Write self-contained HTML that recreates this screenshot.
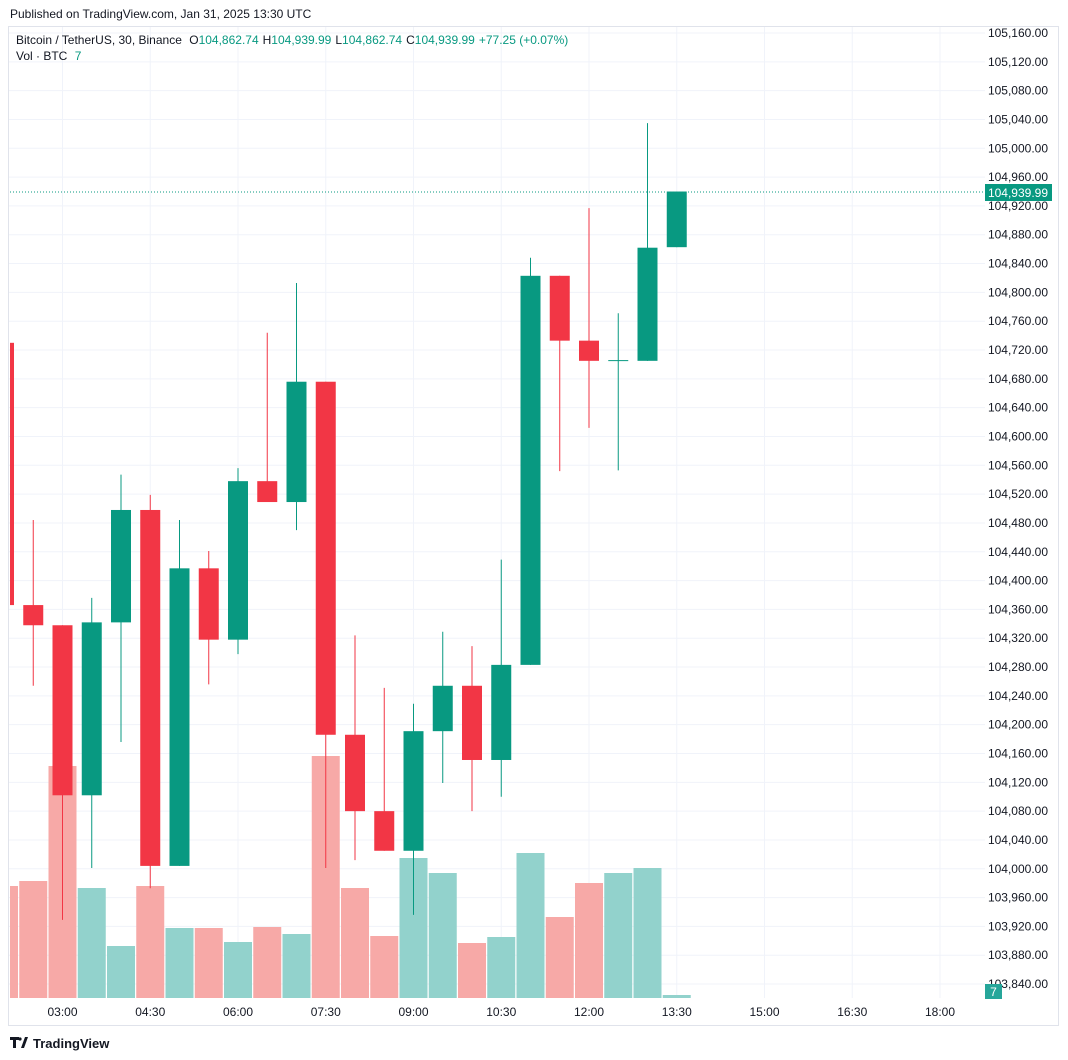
<!DOCTYPE html>
<html><head><meta charset="utf-8"><style>
body{margin:0;background:#fff;font-family:"Liberation Sans",sans-serif;}
svg{display:block}
</style></head><body>
<svg id="c" width="1068" height="1060">
<rect x="0" y="0" width="1068" height="1060" fill="#fff"/>
<text x="10" y="18" font-size="12" fill="#131722">Published on TradingView.com, Jan 31, 2025 13:30 UTC</text>
<rect x="8.5" y="26.5" width="1050" height="999" fill="none" stroke="#e0e3eb"/>
<g id="grid"></g><g id="vol"></g><g id="candles"></g>
<line x1="10" x2="985" y1="192" y2="192" stroke="#089981" stroke-dasharray="1,2"/>
<g id="yaxis"></g><g id="xaxis"></g>
<rect x="985" y="184" width="67" height="17" fill="#089981"/>
<text x="1048" y="197" font-size="12" fill="#fff" text-anchor="end">104,939.99</text>
<rect x="985" y="984" width="17" height="15" fill="#26a69a"/>
<text x="993.5" y="996" font-size="12" fill="#fff" text-anchor="middle">7</text>
<text x="16" y="44" font-size="12" fill="#131722">Bitcoin / TetherUS, 30, Binance <tspan dx="4">O</tspan><tspan fill="#089981">104,862.74</tspan><tspan dx="4">H</tspan><tspan fill="#089981">104,939.99</tspan><tspan dx="4">L</tspan><tspan fill="#089981">104,862.74</tspan><tspan dx="4">C</tspan><tspan fill="#089981">104,939.99</tspan><tspan dx="4" fill="#089981">+77.25 (+0.07%)</tspan></text>
<text x="16" y="60" font-size="12" fill="#131722">Vol · BTC <tspan dx="4" fill="#089981">7</tspan></text>
<g><path d="M10 1037h9v3h-3v8h-3v-8h-3z M21 1048l4-11h3l-4 11z" fill="#131722"/><circle cx="20" cy="1039" r="1.6" fill="#131722"/>
<text x="33" y="1048" font-size="13" fill="#131722" font-weight="bold">TradingView</text></g>
</svg>
<script>
const times=["02:00","02:30","03:00","03:30","04:00","04:30","05:00","05:30","06:00","06:30","07:00","07:30","08:00","08:30","09:00","09:30","10:00","10:30","11:00","11:30","12:00","12:30","13:00","13:30"];
const opens=[104730,104366,104338,104102,104342,104498,104004,104417,104318,104538,104509,104676,104186,104080,104025,104191,104254,104151,104283,104823,104733,104705,104705,104862.74];
const highs=[104730,104484,104338,104376,104547,104519,104484,104441,104556,104744,104813,104676,104324,104251,104229,104329,104309,104429,104848,104823,104917,104771,105035,104939.99];
const lows=[104366,104254,103929,104001,104176,103973,104004,104256,104298,104509,104470,104001,104012,104025,103936,104119,104080,104100,104283,104552,104612,104553,104705,104862.74];
const closes=[104366,104338,104102,104342,104498,104004,104417,104318,104538,104509,104676,104186,104080,104025,104191,104254,104151,104283,104823,104733,104705,104706,104862,104939.99];
const volumes=[112,117,232,110,52,112,70,70,56,71,64,242,110,62,140,125,55,61,145,81,115,125,130,3];
const priceTicks=[105160,105120,105080,105040,105000,104960,104920,104880,104840,104800,104760,104720,104680,104640,104600,104560,104520,104480,104440,104400,104360,104320,104280,104240,104200,104160,104120,104080,104040,104000,103960,103920,103880,103840];
const timeTicks=["03:00","04:30","06:00","07:30","09:00","10:30","12:00","13:30","15:00","16:30","18:00"];
const NS="http://www.w3.org/2000/svg";
const y=p=>33+(105160-p)*0.7205;
const x=i=>4+i*29.25;
const tmin=t=>{const [h,m]=t.split(':').map(Number);return h*60+m;};
const xt=t=>4+(tmin(t)-120)/30*29.25;
const yv=v=>998-v;
function mk(tag,attrs,parent){const e=document.createElementNS(NS,tag);for(const k in attrs)e.setAttribute(k,attrs[k]);document.getElementById(parent).appendChild(e);return e;}
priceTicks.forEach(p=>{
 const l=mk('line',{x1:9,x2:985,y1:y(p),y2:y(p),stroke:'#f0f3fa'},'grid');
 
 
 const t=mk('text',{x:1048,y:y(p)+4,'font-size':12,fill:'#131722','text-anchor':'end'},'yaxis');
 t.textContent=p.toLocaleString('en-US')+'.00';
 
 
});
timeTicks.forEach(tt=>{
 const l=mk('line',{x1:xt(tt),x2:xt(tt),y1:27,y2:998,stroke:'#f0f3fa'},'grid');
 
 
 const t=mk('text',{x:xt(tt),y:1016,'font-size':12,fill:'#131722','text-anchor':'middle'},'xaxis');
 t.textContent=tt;
 
 
});
times.forEach((tm,i)=>{
 const up=closes[i]>=opens[i];
 const cx=x(i);
 const bl=Math.max(10,cx-14);
 const b=mk('rect',{x:bl,y:yv(volumes[i]),width:cx+14-bl,height:volumes[i],fill:up?'#92d2cc':'#f7a9a7'},'vol');
 
 
 const col=up?'#089981':'#f23645';
 if(cx>=10){
 const w=mk('line',{x1:cx,x2:cx,y1:y(highs[i]),y2:y(lows[i]),stroke:col,'stroke-width':1},'candles');
 
 
 }
 const top=y(Math.max(opens[i],closes[i])),bot=y(Math.min(opens[i],closes[i]));
 const left=Math.max(10,cx-10);
 const r=mk('rect',{x:left,y:top,width:Math.max(2,cx+10-left),height:Math.max(1,bot-top),fill:col},'candles');
 
 
});
</script>
</body></html>
